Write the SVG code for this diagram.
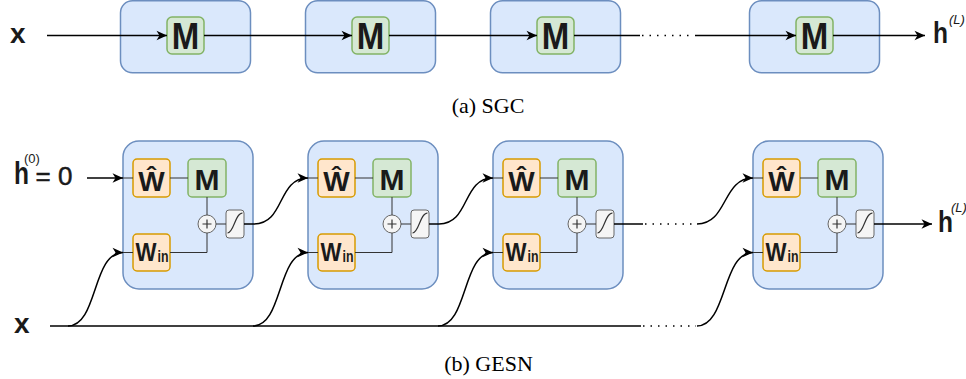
<svg xmlns="http://www.w3.org/2000/svg" width="966" height="379" viewBox="0 0 966 379">
<style>
.outer{fill:#dae8fc;stroke:#6c8ebf;stroke-width:1.5}
.org{fill:#ffe6cc;stroke:#d79b00;stroke-width:1.5}
.grn{fill:#d5e8d4;stroke:#82b366;stroke-width:1.5}
.op{fill:#f5f5f5;stroke:#666666;stroke-width:1}
.sym{fill:none;stroke:#333333;stroke-width:1.2}
.in{fill:none;stroke:#333333;stroke-width:1}
.con{fill:none;stroke:#000000;stroke-width:1.5}
.arr{marker-end:url(#ah)}
.dot{fill:none;stroke:#000000;stroke-width:1.5;stroke-dasharray:1.5 6}
.lbl{font-family:"Liberation Sans",Arial,sans-serif;font-weight:bold;fill:#1a1a1a}
.mt{font-family:"Liberation Sans",Arial,sans-serif;font-weight:bold;fill:#1a1a1a;text-anchor:middle}
.cap{font-family:"Liberation Serif","Times New Roman",serif;font-size:22px;fill:#000;text-anchor:middle}
.sup{font-family:"Liberation Sans",Arial,sans-serif;font-size:13px;fill:#1a1a1a}
</style>
<defs>
<marker id="ah" markerUnits="userSpaceOnUse" viewBox="-11 -6 12 12" refX="0" refY="0" markerWidth="12" markerHeight="12" orient="auto">
<path d="M0,0 L-10.5,-4.8 L-7.5,0 L-10.5,4.8 Z" fill="#000"/>
</marker>
</defs>

<!-- (a) SGC -->
<g id="sgc-1"><rect class="outer" x="120.5" y="0.75" width="130" height="72" rx="12"/>
<g id="sgc-1-M"><rect class="grn" x="167" y="17" width="37" height="37" rx="5"/><text class="mt" x="185.5" y="49" font-size="37" textLength="27.5" lengthAdjust="spacingAndGlyphs">M</text></g></g>
<g id="sgc-2"><rect class="outer" x="305.5" y="0.75" width="130" height="72" rx="12"/>
<g id="sgc-2-M"><rect class="grn" x="352" y="17" width="37" height="37" rx="5"/><text class="mt" x="370.5" y="49" font-size="37" textLength="27.5" lengthAdjust="spacingAndGlyphs">M</text></g></g>
<g id="sgc-3"><rect class="outer" x="490.5" y="0.75" width="130" height="72" rx="12"/>
<g id="sgc-3-M"><rect class="grn" x="537" y="17" width="37" height="37" rx="5"/><text class="mt" x="555.5" y="49" font-size="37" textLength="27.5" lengthAdjust="spacingAndGlyphs">M</text></g></g>
<g id="sgc-4"><rect class="outer" x="749.5" y="0.75" width="130" height="72" rx="12"/>
<g id="sgc-4-M"><rect class="grn" x="796" y="17" width="37" height="37" rx="5"/><text class="mt" x="814.5" y="49" font-size="37" textLength="27.5" lengthAdjust="spacingAndGlyphs">M</text></g></g>
<g id="sgc-x"><text class="lbl" x="10" y="43" font-size="28">x</text></g>
<g id="sgc-h"><text class="lbl" x="933" y="43" font-size="29" textLength="15" lengthAdjust="spacingAndGlyphs">h</text><text class="sup" x="949" y="24" font-style="italic">(L)</text></g>
<text class="cap" x="488" y="113">(a) SGC</text>

<!-- (b) GESN -->
<g id="gesn-1">
<rect class="outer" x="123" y="141" width="130" height="148" rx="16"/>
<g id="gesn-1-What"><rect class="org" x="133" y="159" width="37" height="38" rx="4"/><text class="mt" x="151.5" y="191" font-size="28">Ŵ</text></g>
<g id="gesn-1-M"><rect class="grn" x="188" y="159" width="38" height="38" rx="4"/><text class="mt" x="207" y="189.5" font-size="30">M</text></g>
<g id="gesn-1-Win"><rect class="org" x="133" y="234" width="37" height="37" rx="4"/><text class="lbl" x="135.5" y="260.5" font-size="25.5" textLength="21" lengthAdjust="spacingAndGlyphs">W</text><text class="lbl" x="157.5" y="262" font-size="17" textLength="11" lengthAdjust="spacingAndGlyphs">in</text></g>
<g id="gesn-1-sum"><circle class="op" cx="207" cy="224" r="9"/><path class="sym" d="M202.5,224 H211.5 M207,219.5 V228.5"/></g>
<g id="gesn-1-act"><rect class="op" x="226" y="210" width="18" height="28" rx="3"/><path class="sym" d="M227.5,233 C234,233 235,213 242.5,213"/></g>
</g>
<g id="gesn-2">
<rect class="outer" x="308" y="141" width="130" height="148" rx="16"/>
<g id="gesn-2-What"><rect class="org" x="318" y="159" width="37" height="38" rx="4"/><text class="mt" x="336.5" y="191" font-size="28">Ŵ</text></g>
<g id="gesn-2-M"><rect class="grn" x="373" y="159" width="38" height="38" rx="4"/><text class="mt" x="392" y="189.5" font-size="30">M</text></g>
<g id="gesn-2-Win"><rect class="org" x="318" y="234" width="37" height="37" rx="4"/><text class="lbl" x="320.5" y="260.5" font-size="25.5" textLength="21" lengthAdjust="spacingAndGlyphs">W</text><text class="lbl" x="342.5" y="262" font-size="17" textLength="11" lengthAdjust="spacingAndGlyphs">in</text></g>
<g id="gesn-2-sum"><circle class="op" cx="392" cy="224" r="9"/><path class="sym" d="M387.5,224 H396.5 M392,219.5 V228.5"/></g>
<g id="gesn-2-act"><rect class="op" x="411" y="210" width="18" height="28" rx="3"/><path class="sym" d="M412.5,233 C419,233 420,213 427.5,213"/></g>
</g>
<g id="gesn-3">
<rect class="outer" x="493" y="141" width="130" height="148" rx="16"/>
<g id="gesn-3-What"><rect class="org" x="503" y="159" width="37" height="38" rx="4"/><text class="mt" x="521.5" y="191" font-size="28">Ŵ</text></g>
<g id="gesn-3-M"><rect class="grn" x="558" y="159" width="38" height="38" rx="4"/><text class="mt" x="577" y="189.5" font-size="30">M</text></g>
<g id="gesn-3-Win"><rect class="org" x="503" y="234" width="37" height="37" rx="4"/><text class="lbl" x="505.5" y="260.5" font-size="25.5" textLength="21" lengthAdjust="spacingAndGlyphs">W</text><text class="lbl" x="527.5" y="262" font-size="17" textLength="11" lengthAdjust="spacingAndGlyphs">in</text></g>
<g id="gesn-3-sum"><circle class="op" cx="577" cy="224" r="9"/><path class="sym" d="M572.5,224 H581.5 M577,219.5 V228.5"/></g>
<g id="gesn-3-act"><rect class="op" x="596" y="210" width="18" height="28" rx="3"/><path class="sym" d="M597.5,233 C604,233 605,213 612.5,213"/></g>
</g>
<g id="gesn-4">
<rect class="outer" x="753" y="141" width="130" height="148" rx="16"/>
<g id="gesn-4-What"><rect class="org" x="763" y="159" width="37" height="38" rx="4"/><text class="mt" x="781.5" y="191" font-size="28">Ŵ</text></g>
<g id="gesn-4-M"><rect class="grn" x="818" y="159" width="38" height="38" rx="4"/><text class="mt" x="837" y="189.5" font-size="30">M</text></g>
<g id="gesn-4-Win"><rect class="org" x="763" y="234" width="37" height="37" rx="4"/><text class="lbl" x="765.5" y="260.5" font-size="25.5" textLength="21" lengthAdjust="spacingAndGlyphs">W</text><text class="lbl" x="787.5" y="262" font-size="17" textLength="11" lengthAdjust="spacingAndGlyphs">in</text></g>
<g id="gesn-4-sum"><circle class="op" cx="837" cy="224" r="9"/><path class="sym" d="M832.5,224 H841.5 M837,219.5 V228.5"/></g>
<g id="gesn-4-act"><rect class="op" x="856" y="210" width="18" height="28" rx="3"/><path class="sym" d="M857.5,233 C864,233 865,213 872.5,213"/></g>
</g>
<g id="gesn-h0"><text class="lbl" x="14" y="184" font-size="31" textLength="15" lengthAdjust="spacingAndGlyphs">h</text><text class="sup" x="24" y="163">(0)</text><text x="35.5" y="185" font-family="'Liberation Sans',Arial,sans-serif" font-size="26" fill="#1a1a1a" stroke="#1a1a1a" stroke-width="0.5">= 0</text></g>
<g id="gesn-x"><text class="lbl" x="14" y="333" font-size="28">x</text></g>
<g id="gesn-h"><text class="lbl" x="938" y="232" font-size="29" textLength="15" lengthAdjust="spacingAndGlyphs">h</text><text class="sup" x="951" y="212" font-style="italic">(L)</text></g>
<text class="cap" x="488.5" y="371">(b) GESN</text>

<g id="connectors">
<!-- SGC -->
<path class="con arr" d="M47,35.5 H167"/>
<path class="con arr" d="M204,35.5 H352"/>
<path class="con arr" d="M389,35.5 H537"/>
<path class="con" d="M574,35.5 H640"/>
<path class="dot" d="M642,35.5 H694"/>
<path class="con arr" d="M695,35.5 H796"/>
<path class="con arr" d="M833,35.5 H925"/>
<!-- GESN inner wiring -->
<path class="in" d="M123,178 H133 M170,178 H188 M207,197 V215 M170,252.5 H207 V233 M216,224 H226 M123,252.5 H133"/>
<path class="in" d="M308,178 H318 M355,178 H373 M392,197 V215 M355,252.5 H392 V233 M401,224 H411 M308,252.5 H318"/>
<path class="in" d="M493,178 H503 M540,178 H558 M577,197 V215 M540,252.5 H577 V233 M586,224 H596 M493,252.5 H503"/>
<path class="in" d="M753,178 H763 M800,178 H818 M837,197 V215 M800,252.5 H837 V233 M846,224 H856 M753,252.5 H763"/>
<!-- GESN recurrent chain -->
<path class="con arr" d="M87,178 H123"/>
<path class="con arr" d="M244,224 H254 C285,224 277,178 308,178"/>
<path class="con arr" d="M429,224 H439 C470,224 462,178 493,178"/>
<path class="con" d="M614,224 H643"/>
<path class="dot" d="M645,224 H696"/>
<path class="con arr" d="M697,224 C728,224 722,178 753,178"/>
<path class="con arr" d="M874,224 H932"/>
<!-- GESN input x -->
<path class="con" d="M50,326 H641"/>
<path class="dot" d="M643,326 H696"/>
<path class="con arr" d="M68,326 C98,326 92,252.5 123,252.5"/>
<path class="con arr" d="M253,326 C283,326 277,252.5 308,252.5"/>
<path class="con arr" d="M438,326 C468,326 462,252.5 493,252.5"/>
<path class="con arr" d="M697,326 C727,326 722,252.5 753,252.5"/>
</g>
</svg>
